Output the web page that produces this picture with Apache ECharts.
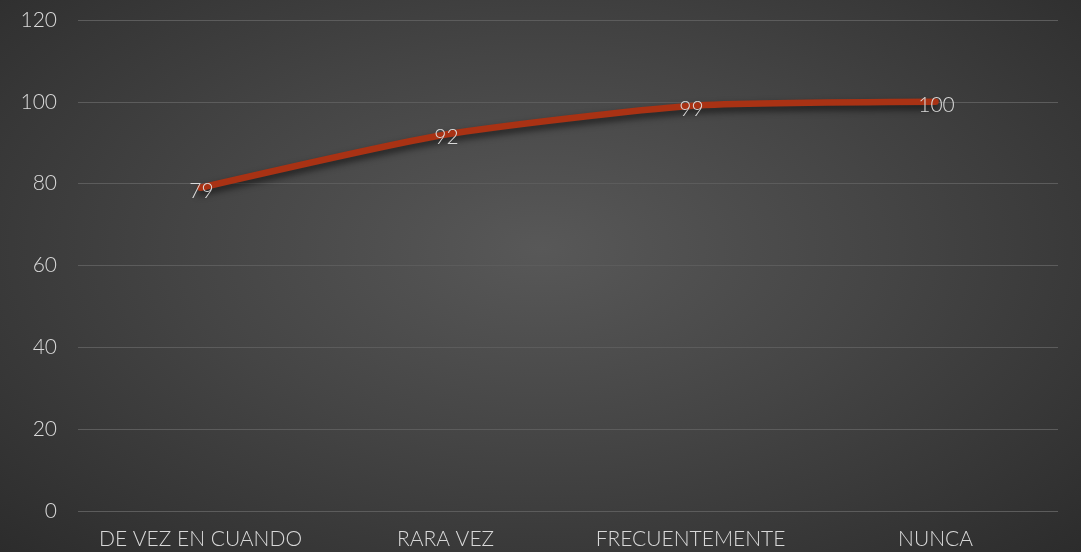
<!DOCTYPE html>
<html lang="es">
<head>
    <meta charset="UTF-8">
    <title>Chart</title>
    <script src="https://cdn.jsdelivr.net/npm/echarts@6/dist/echarts.min.js"></script>
    <style>
        html, body { margin: 0; padding: 0; }
        #chart {
            width: 1081px;
            height: 552px;
            background: radial-gradient(ellipse at 50% 45%, #585858 0%, #454545 45%, #2c2c2c 100%);
        }
    </style>
</head>
<body>
    <div id="chart"></div>
    <script>
        var categories = ['DE VEZ EN CUANDO', 'RARA VEZ', 'FRECUENTEMENTE', 'NUNCA'];
        var values = [79, 92, 99, 100];
        var yTicks = { min: 0, max: 120, step: 20 };

        var textColor = '#d9d9d9';
        var fontName = 'Lato, "Open Sans", sans-serif';

        var myChart = echarts.init(document.getElementById('chart'));
        var option = {
            backgroundColor: 'transparent',
            animation: false,
            grid: { left: 78, right: 23, top: 20, bottom: 41, containLabel: false },
            xAxis: {
                type: 'category',
                data: categories,
                boundaryGap: true,
                axisLine: { show: false },
                axisTick: { show: false },
                axisLabel: { color: textColor, fontSize: 21, fontWeight: 300, fontFamily: fontName, margin: 18, interval: 0 }
            },
            yAxis: {
                type: 'value',
                min: yTicks.min,
                max: yTicks.max,
                interval: yTicks.step,
                axisLine: { show: false },
                axisTick: { show: false },
                axisLabel: { color: textColor, fontSize: 21, fontWeight: 300, fontFamily: fontName, margin: 21 },
                splitLine: { lineStyle: { color: '#5c5c5c', width: 1 } }
            },
            series: [
                {
                    type: 'line',
                    data: values,
                    smooth: 0.2,
                    symbol: 'circle',
                    symbolSize: 2,
                    showSymbol: true,
                    itemStyle: { color: 'rgba(169,50,20,0)' },
                    lineStyle: {
                        color: '#a93214',
                        width: 6.5,
                        cap: 'round',
                        shadowColor: 'rgba(0,0,0,0.6)',
                        shadowBlur: 7,
                        shadowOffsetY: 4
                    },
                    label: {
                        show: true,
                        position: 'inside',
                        offset: [1, 3],
                        color: textColor,
                        fontSize: 21,
                        fontWeight: 300,
                        fontFamily: fontName
                    }
                }
            ]
        };
        myChart.setOption(option);
    </script>
</body>
</html>
